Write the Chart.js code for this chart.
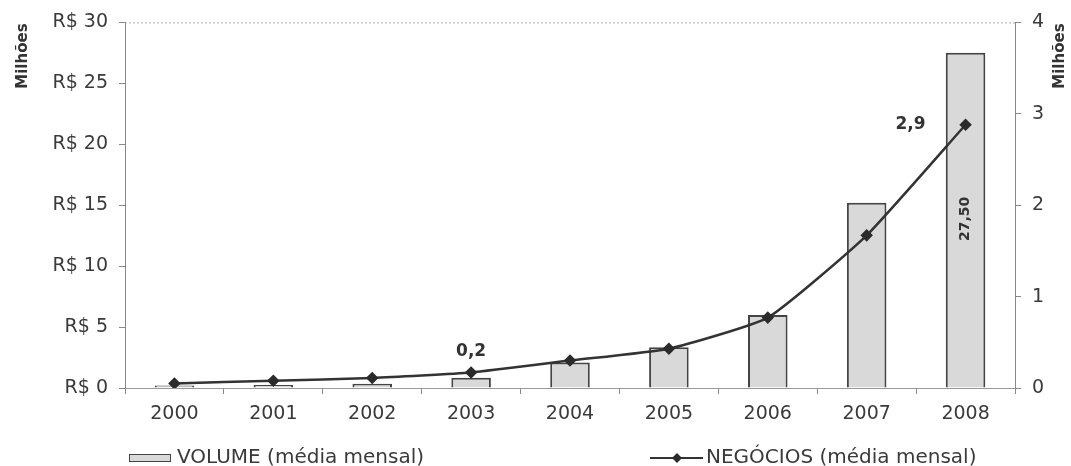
<!DOCTYPE html>
<html>
<head>
<meta charset="utf-8">
<script src="https://cdn.jsdelivr.net/npm/chart.js@4"></script>
<style>
  html, body { margin: 0; padding: 0; background: #fff; }
  #wrap { width: 1071px; height: 466px; position: relative; }
</style>
</head>
<body>
<div id="wrap"><canvas id="grafico"></canvas></div>
<script>
// dados
var anos = ["2000", "2001", "2002", "2003", "2004", "2005", "2006", "2007", "2008"];
var volume = [0.2, 0.25, 0.35, 0.85, 2.1, 3.35, 6.0, 15.2, 27.5];   // R$ milhões
var negocios = [0.05, 0.08, 0.11, 0.17, 0.30, 0.43, 0.77, 1.67, 2.88]; // milhões
var ticksVolume = [0, 5, 10, 15, 20, 25, 30];
var ticksNegocios = [0, 1, 2, 3, 4];
var rotulos = [
    { serie: 1, idx: 3, texto: "0,2" },
    { serie: 1, idx: 8, texto: "2,9" },
    { serie: 0, idx: 8, texto: "27,50" }
];

var fonte = "'DejaVu Sans', sans-serif";
var corTexto = "#3a3a3a";

// extras: borda de cima, titulos "Milhões", rótulos e legenda
var extras = {
    id: "extras",
    afterDraw: function(chart) {
        var c = chart.ctx;
        var a = chart.chartArea;
        c.save();

        // borda pontilhada em cima
        c.strokeStyle = "#aaa";
        c.lineWidth = 1;
        c.setLineDash([2, 2]);
        c.beginPath();
        c.moveTo(a.left, a.top + 0.5);
        c.lineTo(a.right, a.top + 0.5);
        c.stroke();
        c.setLineDash([]);

        // Milhões
        c.fillStyle = "#333";
        c.font = "bold 15px " + fonte;
        c.textBaseline = "middle";
        c.textAlign = "right";
        [23, 1060].forEach(function(x) {
            c.save();
            c.translate(x, a.top + 1);
            c.rotate(-Math.PI / 2);
            c.fillText("Milhões", 0, 0);
            c.restore();
        });

        // rótulos de valor
        rotulos.forEach(function(r) {
            var p = chart.getDatasetMeta(r.serie).data[r.idx];
            c.fillStyle = "#333";
            c.textAlign = "center";
            c.textBaseline = "middle";
            if (r.serie == 1 && r.idx == 3) {
                c.font = "bold 17px " + fonte;
                c.fillText(r.texto, p.x, p.y - 21);
            } else if (r.serie == 1) {
                c.font = "bold 17px " + fonte;
                c.fillText(r.texto, p.x - 55, p.y);
            } else {
                c.font = "bold 14px " + fonte;
                c.save();
                c.translate(p.x, p.y + 166);
                c.rotate(-Math.PI / 2);
                c.fillText(r.texto, 0, 0);
                c.restore();
            }
        });

        // legenda
        var ds = chart.data.datasets;
        var ly = 458;
        c.font = "20px " + fonte;
        c.textAlign = "left";
        c.textBaseline = "middle";
        c.fillStyle = ds[0].backgroundColor;
        c.strokeStyle = ds[0].borderColor;
        c.lineWidth = 1;
        c.fillRect(129, ly - 4, 42, 8);
        c.strokeRect(129.5, ly - 3.5, 41, 7);
        c.fillStyle = corTexto;
        c.fillText(ds[0].label, 177, ly);

        c.strokeStyle = ds[1].borderColor;
        c.lineWidth = 2;
        c.beginPath();
        c.moveTo(650, ly);
        c.lineTo(703, ly);
        c.stroke();
        c.fillStyle = ds[1].pointBackgroundColor;
        c.beginPath();
        c.moveTo(677, ly - 5);
        c.lineTo(682, ly);
        c.lineTo(677, ly + 5);
        c.lineTo(672, ly);
        c.closePath();
        c.fill();
        c.fillStyle = corTexto;
        c.fillText(ds[1].label, 706, ly);

        c.restore();
    }
};

var ctx = document.getElementById("grafico");
var grafico = new Chart(ctx, {
    type: "bar",
    data: {
        labels: anos,
        datasets: [{
                label: "VOLUME (média mensal)",
                data: volume,
                yAxisID: "yVol",
                backgroundColor: "#d9d9d9",
                borderColor: "#444",
                borderWidth: 2,
                barPercentage: 0.4,
                categoryPercentage: 1,
                order: 2
            },
            {
                type: "line",
                label: "NEGÓCIOS (média mensal)",
                data: negocios,
                yAxisID: "yNeg",
                borderColor: "#333",
                borderWidth: 2.5,
                tension: 0.15,
                pointStyle: "rectRot",
                pointRadius: 4.5,
                pointBackgroundColor: "#2b2b2b",
                pointBorderColor: "#2b2b2b",
                order: 1
            }
        ]
    },
    options: {
        responsive: true,
        maintainAspectRatio: false,
        animation: false,
        layout: { padding: { top: 21, left: 0, right: 0, bottom: 0 } },
        plugins: {
            legend: { display: false },
            tooltip: { enabled: false }
        },
        scales: {
            x: {
                offset: true,
                grid: { offset: true, drawOnChartArea: false, tickLength: 6, color: "#888" },
                border: { color: "#999" },
                ticks: { font: { family: fonte, size: 19 }, color: corTexto, padding: 9 },
                afterFit: function(s) { s.height = 78; }
            },
            yVol: {
                position: "left",
                min: 0,
                max: 30,
                afterBuildTicks: function(s) { s.ticks = ticksVolume.map(function(v) { return { value: v }; }); },
                grid: { drawOnChartArea: false, tickLength: 6, color: "#888" },
                border: { color: "#888" },
                ticks: {
                    font: { family: fonte, size: 19 },
                    color: corTexto,
                    padding: 11,
                    callback: function(v) { return "R$ " + v; }
                },
                afterFit: function(s) { s.width = 125; }
            },
            yNeg: {
                position: "right",
                min: 0,
                max: 4,
                afterBuildTicks: function(s) { s.ticks = ticksNegocios.map(function(v) { return { value: v }; }); },
                grid: { drawOnChartArea: false, tickLength: 6, color: "#888" },
                border: { color: "#888" },
                ticks: { font: { family: fonte, size: 19 }, color: corTexto, padding: 11 },
                afterFit: function(s) { s.width = 56; }
            }
        }
    },
    plugins: [extras]
});
</script>
</body>
</html>
